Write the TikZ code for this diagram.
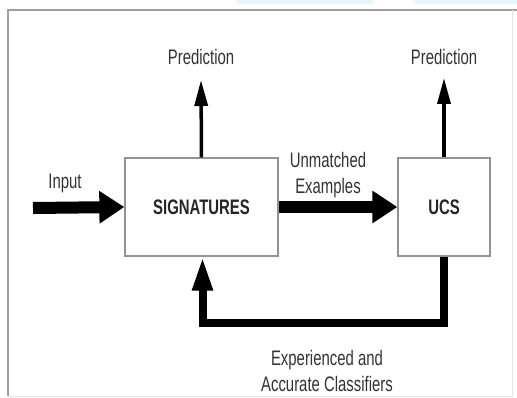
\documentclass[tikz,border=0pt]{standalone}
\usepackage{fontspec}
\setmainfont{Liberation Sans}[FakeStretch=0.71]
\usetikzlibrary{arrows.meta,positioning}
\tikzset{block/.style={draw=gray!85, line width=1.3pt, fill=white, rectangle,
		font=\bfseries\fontsize{21}{23}\selectfont, text=black!85},
	lbl/.style={align=center, font=\fontsize{21}{26}\selectfont, text=black!80},
	fatarrow/.style={draw,line width=12pt,-{Triangle[length=25pt,width=31pt]}},
	thinarrow/.style={draw,line width=3.5pt,-{Triangle[length=26pt,width=13pt]}},
	backarrow/.style={draw,line width=8pt,-{Triangle[length=34pt,width=19pt]}},
	frame/.style={draw=gray!75,line width=1.6pt}}

\begin{document}
\begin{tikzpicture}[x=1pt,y=-1pt]
	\useasboundingbox (0,0) rectangle (517,398);
	\fill[cyan!10](237,0)rectangle(373,4);
	\fill[cyan!10](415,0)rectangle(517,4);
	\draw[frame](517,10)--(8,10)--(8,396);
	\draw[gray!20,line width=0.8pt](8,396)--(512,396)--(512,10);
	
	\node[block,minimum width=153pt,minimum height=98pt](sig)at(201.5,207){SIGNATURES};
	\node[block,minimum width=92pt,minimum height=98pt](ucs)at(444,207){UCS};
	
	\node[lbl](pred1)at(201,57){Prediction};
	\node[lbl](pred2)at(444,57){Prediction};
	\node[lbl](inlbl)at(65,183){Input};
	\node[lbl](unm)at(328,175){Unmatched\\Examples};
	\node[lbl](exp)at(327,371){Experienced and\\Accurate Classifiers};
	
	\coordinate(in)at(33,208);
	\coordinate(p1)at(201,80);
	\coordinate(p2)at(444,78);
	\coordinate(fb)at(444,323);
	
	\draw[fatarrow](in)--(sig.west);
	\draw[fatarrow](sig.east)--(ucs.west);
	\draw[thinarrow](sig.north)--(p1);
	\draw[thinarrow](ucs.north)--(p2);
	\draw[backarrow](ucs.south)--(fb)-|([xshift=1pt]sig.south);
\end{tikzpicture}
\end{document}
